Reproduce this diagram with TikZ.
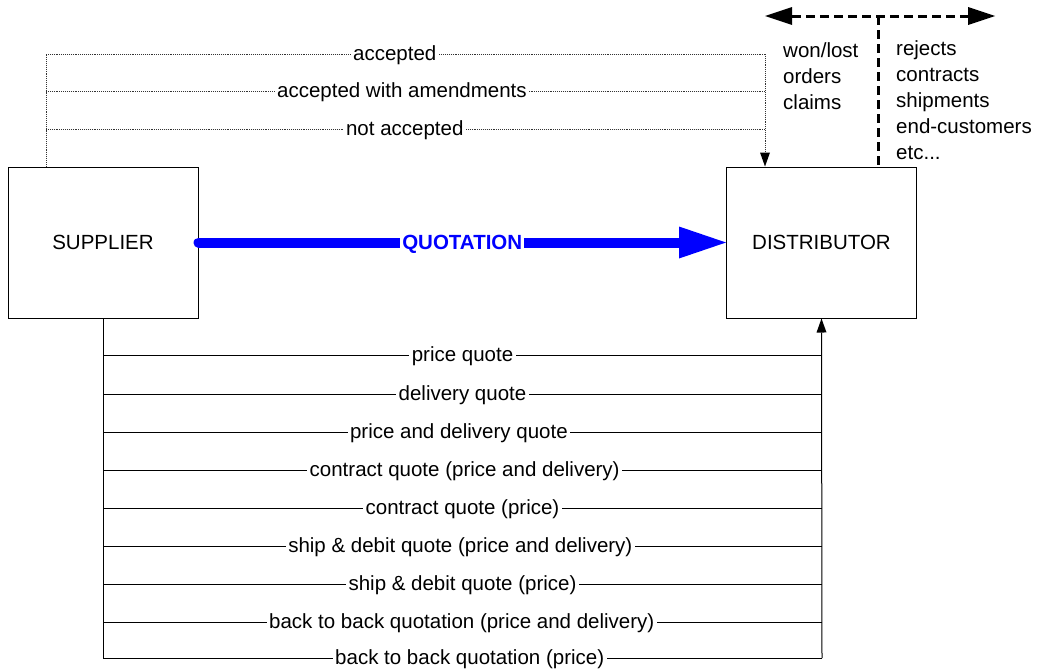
\documentclass[tikz,border=0pt]{standalone}
\usepackage{fontspec}
\setmainfont{Liberation Sans}
\usetikzlibrary{arrows.meta}
\begin{document}
\begin{tikzpicture}[x=1pt,y=-1pt,
  box/.style={draw,line width=1pt,minimum width=190pt,minimum height=151pt,inner sep=0pt,font=\fontsize{20.5}{24}\selectfont},
  lbl/.style={fill=white,inner sep=2.5pt,yshift=-1.2pt,font=\fontsize{20.5}{24}\selectfont},
  dotline/.style={draw=black!80,line width=0.9pt,densely dotted},
  solidline/.style={draw=black,line width=1pt},
  smalltip/.style={-{Triangle[length=14pt,width=10pt,line width=0pt,color=black]}},
  quot/.style={draw=blue,line width=10pt,line cap=round,-{Triangle[length=47pt,width=32pt,line width=0pt]}},
  qlbl/.style={fill=white,inner sep=2pt,yshift=-1.5pt,text=blue,font=\fontsize{20.5}{24}\selectfont\bfseries},
  bigdash/.style={draw=black,line width=3pt,dash pattern=on 9pt off 5pt},
  bigtips/.style={{Triangle[length=27pt,width=18pt,line width=0pt]}-{Triangle[length=27pt,width=18pt,line width=0pt]}},
  side/.style={anchor=north west,align=left,inner sep=0pt,font=\fontsize{20.5}{26.2}\selectfont}
]
\useasboundingbox (0,0) rectangle (1037,672);

\node[box] (sup) at (103,242.5) {SUPPLIER};
\node[box] (dist) at (821.5,242.5) {DISTRIBUTOR};

% top feedback (dotted)
\coordinate (sA) at ([xshift=-57pt]sup.north);
\coordinate (dA) at ([xshift=-56.5pt]dist.north);
\coordinate (l1) at (46,54);  \coordinate (r1) at (765,54);
\coordinate (l2) at (46,91);  \coordinate (r2) at (765,91);
\coordinate (l3) at (46,129); \coordinate (r3) at (765,129);
\draw[dotline] (sA) -- (l1);
\draw[dotline] (l1) -- node[lbl,pos=.485] {accepted} (r1);
\draw[dotline] (l2) -- node[lbl,pos=.495] {accepted with amendments} (r2);
\draw[dotline] (l3) -- node[lbl,pos=.499] {not accepted} (r3);
\draw[dotline,smalltip] (r1) -- (dA);

% quotation arrow
\draw[quot] (sup.east) -- node[qlbl] {QUOTATION} (dist.west);

% bottom quote types
\coordinate (b1) at (103,355); \coordinate (e1) at (822,355);
\coordinate (b2) at (103,394); \coordinate (e2) at (822,394);
\coordinate (b3) at (103,432); \coordinate (e3) at (822,432);
\coordinate (b4) at (103,470); \coordinate (e4) at (822,470);
\coordinate (b5) at (103,508); \coordinate (e5) at (822,508);
\coordinate (b6) at (103,546); \coordinate (e6) at (822,546);
\coordinate (b7) at (103,584); \coordinate (e7) at (822,584);
\coordinate (b8) at (103,622); \coordinate (e8) at (822,622);
\coordinate (b9) at (103,658); \coordinate (e9) at (822,658);
\draw[solidline] (sup.south) -- (b9);
\draw[solidline] (b1) -- node[lbl] {price quote} (e1);
\draw[solidline] (b2) -- node[lbl] {delivery quote} (e2);
\draw[solidline] (b3) -- node[lbl,pos=.495] {price and delivery quote} (e3);
\draw[solidline] (b4) -- node[lbl,pos=.503] {contract quote (price and delivery)} (e4);
\draw[solidline] (b5) -- node[lbl] {contract quote (price)} (e5);
\draw[solidline] (b6) -- node[lbl,pos=.497] {ship \& debit quote (price and delivery)} (e6);
\draw[solidline] (b7) -- node[lbl] {ship \& debit quote (price)} (e7);
\draw[solidline] (b8) -- node[lbl,pos=.499] {back to back quotation (price and delivery)} (e8);
\draw[solidline] (b9) -- node[lbl,pos=.51] {back to back quotation (price)} (e9);
\draw[solidline,smalltip] (e9) -- (dist.south);

% external info (dashed)
\coordinate (dl) at (765,16);
\coordinate (dr) at (995,16);
\coordinate (dm) at (878,16);
\draw[bigdash,bigtips] (dl) -- (dr);
\draw[bigdash] (dm) -- ([xshift=56.5pt]dist.north);

\node[side] (won) at (783,42) {won/lost\\orders\\claims};
\node[side] (rej) at (896,40) {rejects\\contracts\\shipments\\end-customers\\etc...};
\end{tikzpicture}
\end{document}
